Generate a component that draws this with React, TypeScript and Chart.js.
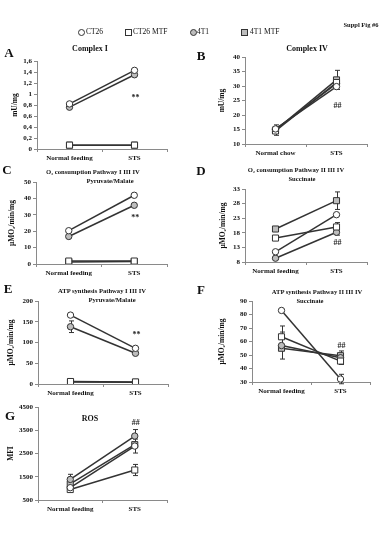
import React, { useEffect, useRef } from 'react';
import { Chart, registerables } from 'chart.js';

Chart.register(...registerables);

const FONT = "'Liberation Serif', 'Times New Roman', Times, serif";
const LINE = '#333333';
const AXIS = '#8a8a8a';
const GRAY = '#bdbdbd';

// ---------- data ----------
const SERIES = ['CT26', 'CT26 MTF', '4T1', '4T1 MTF'];
const CAT_FEED = ['Normal feeding', 'STS'];
const CAT_CHOW = ['Normal chow', 'STS'];

// A  Complex I (mU/mg)
const A_CT26 = [0.82, 1.43];
const A_CT26_MTF = [0.07, 0.07];
const A_4T1 = [0.76, 1.35];
const A_4T1_MTF = [0.07, 0.07];

// B  Complex IV (mU/mg)
const B_CT26 = [15.2, 29.8];
const B_CT26_MTF = [14.5, 31.2];
const B_4T1 = [15.0, 30.8];
const B_4T1_MTF = [14.8, 32.1];
const B_ERR_4T1_MTF = [1.8, 3.3];

// C  O2 consumption Pathway I III IV, Pyruvate/Malate
const C_CT26 = [20.3, 41.9];
const C_CT26_MTF = [1.8, 1.8];
const C_4T1 = [16.8, 35.8];
const C_4T1_MTF = [1.2, 1.5];
const C_ERR_CT26 = [0, 1.2];

// D  O2 consumption Pathway II III IV, Succinate
const D_CT26 = [11.5, 24.2];
const D_CT26_MTF = [16.2, 20.0];
const D_4T1 = [9.3, 18.2];
const D_4T1_MTF = [19.3, 29.0];
const D_ERR_CT26_MTF = [0.5, 1.5];
const D_ERR_4T1 = [0.4, 1.0];
const D_ERR_4T1_MTF = [0.8, 3.0];

// E  ATP synthesis Pathway I III IV, Pyruvate/Malate
const E_CT26 = [166, 86];
const E_CT26_MTF = [6, 5];
const E_4T1 = [138, 74];
const E_4T1_MTF = [5, 4];
const E_ERR_4T1 = [14, 0];

// F  ATP synthesis Pathway II III IV, Succinate
const F_CT26 = [83, 32.2];
const F_CT26_MTF = [63.5, 45.5];
const F_4T1 = [57, 48];
const F_4T1_MTF = [55, 49.5];
const F_ERR_CT26 = [0, 3.5];
const F_ERR_CT26_MTF = [8, 0];
const F_ERR_4T1 = [10, 5];

// G  ROS (MFI)
const G_CT26 = [1030, 2820];
const G_CT26_MTF = [950, 1790];
const G_4T1 = [1385, 3250];
const G_4T1_MTF = [1190, 2880];
const G_ERR_CT26 = [100, 300];
const G_ERR_CT26_MTF = [80, 240];
const G_ERR_4T1 = [220, 280];

const NO_ERR = [0, 0];

// ---------- panel configs ----------
type PanelCfg = {
  cats: string[];
  values: number[][];
  errors: number[][];
  yMin: number;
  yMax: number;
  yStep: number;
  comma?: boolean;
  yLabel: string;
  yTitleX: number;
  sig: string;
  sigValue: number;
  area: [number, number, number, number];
  col: 0 | 1;
};

const PANELS: PanelCfg[] = [
  {
    cats: CAT_FEED,
    values: [A_CT26, A_CT26_MTF, A_4T1, A_4T1_MTF],
    errors: [NO_ERR, NO_ERR, NO_ERR, NO_ERR],
    yMin: 0, yMax: 1.6, yStep: 0.2, comma: true,
    yLabel: 'mU/mg', yTitleX: 15,
    sig: '**', sigValue: 0.92,
    area: [37, 61, 167, 149], col: 0,
  },
  {
    cats: CAT_CHOW,
    values: [B_CT26, B_CT26_MTF, B_4T1, B_4T1_MTF],
    errors: [NO_ERR, NO_ERR, NO_ERR, B_ERR_4T1_MTF],
    yMin: 10, yMax: 40, yStep: 5,
    yLabel: 'mU/mg', yTitleX: 222,
    sig: '##', sigValue: 23,
    area: [245, 57, 367, 144], col: 1,
  },
  {
    cats: CAT_FEED,
    values: [C_CT26, C_CT26_MTF, C_4T1, C_4T1_MTF],
    errors: [C_ERR_CT26, NO_ERR, NO_ERR, NO_ERR],
    yMin: 0, yMax: 50, yStep: 10,
    yLabel: 'μMO₂/min/mg', yTitleX: 12,
    sig: '**', sigValue: 28,
    area: [36, 182, 167, 264], col: 0,
  },
  {
    cats: CAT_FEED,
    values: [D_CT26, D_CT26_MTF, D_4T1, D_4T1_MTF],
    errors: [NO_ERR, D_ERR_CT26_MTF, D_ERR_4T1, D_ERR_4T1_MTF],
    yMin: 8, yMax: 33, yStep: 5,
    yLabel: 'μMO₂/min/mg', yTitleX: 223,
    sig: '##', sigValue: 14.5,
    area: [245, 189, 367, 262], col: 1,
  },
  {
    cats: CAT_FEED,
    values: [E_CT26, E_CT26_MTF, E_4T1, E_4T1_MTF],
    errors: [NO_ERR, NO_ERR, E_ERR_4T1, NO_ERR],
    yMin: 0, yMax: 200, yStep: 50,
    yLabel: 'μMO₂/min/mg', yTitleX: 11,
    sig: '**', sigValue: 118,
    area: [38, 301, 168, 384], col: 0,
  },
  {
    cats: CAT_FEED,
    values: [F_CT26, F_CT26_MTF, F_4T1, F_4T1_MTF],
    errors: [F_ERR_CT26, F_ERR_CT26_MTF, F_ERR_4T1, NO_ERR],
    yMin: 30, yMax: 90, yStep: 10,
    yLabel: 'μMO₂/min/mg', yTitleX: 222,
    sig: '##', sigValue: 57,
    area: [252, 301, 370, 382], col: 1,
  },
  {
    cats: CAT_FEED,
    values: [G_CT26, G_CT26_MTF, G_4T1, G_4T1_MTF],
    errors: [G_ERR_CT26, G_ERR_CT26_MTF, G_ERR_4T1, NO_ERR],
    yMin: 500, yMax: 4500, yStep: 1000,
    yLabel: 'MFI', yTitleX: 11,
    sig: '##', sigValue: 3820,
    area: [38, 407, 167, 500], col: 0,
  },
];

const STYLES = [
  { pointStyle: 'circle', bg: '#ffffff', r: 3.2 },
  { pointStyle: 'rect', bg: '#ffffff', r: 4.3 },
  { pointStyle: 'circle', bg: GRAY, r: 3.2 },
  { pointStyle: 'rect', bg: GRAY, r: 4.3 },
];

const errorBarPlugin = {
  id: 'errbars',
  beforeDatasetsDraw(chart: any) {
    const { ctx } = chart;
    const x = chart.scales.x;
    const y = chart.scales.y;
    ctx.save();
    ctx.strokeStyle = LINE;
    ctx.lineWidth = 1;
    chart.data.datasets.forEach((ds: any) => {
      (ds.errors || []).forEach((e: number, i: number) => {
        if (!e) return;
        const v = ds.data[i];
        const px = Math.round(x.getPixelForValue(i)) + 0.5;
        const top = y.getPixelForValue(v + e);
        const bot = y.getPixelForValue(v - e);
        ctx.beginPath();
        ctx.moveTo(px, top);
        ctx.lineTo(px, bot);
        ctx.moveTo(px - 2.5, top);
        ctx.lineTo(px + 2.5, top);
        ctx.moveTo(px - 2.5, bot);
        ctx.lineTo(px + 2.5, bot);
        ctx.stroke();
      });
    });
    ctx.restore();
  },
};

const sigPlugin = {
  id: 'sigmark',
  afterDatasetsDraw(chart: any) {
    const cfg = (chart.config.options as any).sigmark;
    if (!cfg) return;
    const { ctx } = chart;
    const px = chart.scales.x.getPixelForValue(cfg.index);
    const py = chart.scales.y.getPixelForValue(cfg.value);
    ctx.save();
    ctx.fillStyle = '#222';
    ctx.font = `bold 8px ${FONT}`;
    ctx.textAlign = 'center';
    ctx.textBaseline = 'middle';
    ctx.fillText(cfg.text, px + 1, py);
    ctx.restore();
  },
};

function Panel({ cfg }: { cfg: PanelCfg }) {
  const ref = useRef<HTMLCanvasElement>(null);
  const [l, t, r, b] = cfg.area;
  const canvasLeft = cfg.col === 0 ? 0 : 190;
  const canvasW = cfg.col === 0 ? 186 : 192;
  const padTop = 8;
  const xH = 16;
  const canvasTop = t - padTop;
  const canvasH = b - t + padTop + xH;
  const yW = l - canvasLeft;
  const padRight = canvasLeft + canvasW - r;
  const yTitleSize = 7.5;
  const yTitlePad = Math.max(0, cfg.yTitleX - canvasLeft - (yTitleSize * 1.2) / 2);

  useEffect(() => {
    const datasets = cfg.values.map((vals, i) => ({
      label: SERIES[i],
      data: vals,
      errors: cfg.errors[i],
      borderColor: LINE,
      borderWidth: 1.5,
      pointStyle: STYLES[i].pointStyle,
      pointRadius: STYLES[i].r,
      pointBackgroundColor: STYLES[i].bg,
      pointBorderColor: LINE,
      pointBorderWidth: 1,
      fill: false,
      tension: 0,
    }));
    const chart = new Chart(ref.current!, {
      type: 'line',
      data: { labels: cfg.cats, datasets: datasets as any },
      plugins: [errorBarPlugin as any, sigPlugin as any],
      options: {
        responsive: false,
        maintainAspectRatio: false,
        animation: false,
        devicePixelRatio: 1,
        layout: { padding: { left: 0, right: padRight, top: padTop, bottom: 0 } },
        plugins: {
          legend: { display: false },
          tooltip: { enabled: false },
          title: { display: false },
        },
        sigmark: { text: cfg.sig, index: 1, value: cfg.sigValue },
        scales: {
          x: {
            type: 'category',
            offset: true,
            grid: {
              display: true,
              offset: true,
              drawOnChartArea: false,
              drawTicks: true,
              tickLength: 3,
              color: AXIS,
            },
            border: { display: true, color: AXIS, width: 1 },
            ticks: {
              font: { family: FONT, size: 7, weight: 'bold' },
              color: '#111',
              padding: 2,
              maxRotation: 0,
              autoSkip: false,
            },
            afterFit: (s: any) => {
              s.height = xH;
            },
          },
          y: {
            type: 'linear',
            min: cfg.yMin,
            max: cfg.yMax,
            grid: {
              display: true,
              drawOnChartArea: false,
              drawTicks: true,
              tickLength: 3,
              color: AXIS,
            },
            border: { display: true, color: AXIS, width: 1 },
            ticks: {
              stepSize: cfg.yStep,
              autoSkip: false,
              maxTicksLimit: 20,
              font: { family: FONT, size: 7, weight: 'bold' },
              color: '#111',
              padding: 2,
              callback: (v: any) => {
                const n = Number(v);
                const s = String(+n.toFixed(2));
                return cfg.comma ? s.replace('.', ',') : s;
              },
            },
            title: {
              display: true,
              text: cfg.yLabel,
              color: '#111',
              font: { family: FONT, size: yTitleSize, weight: 'bold' },
              padding: { top: yTitlePad, bottom: 0 },
            },
            afterFit: (s: any) => {
              s.width = yW;
            },
          },
        },
      } as any,
    });
    return () => chart.destroy();
  }, []);

  return (
    <canvas
      ref={ref}
      width={canvasW}
      height={canvasH}
      style={{ position: 'absolute', left: canvasLeft, top: canvasTop, width: canvasW, height: canvasH }}
    />
  );
}

type Txt = { text: string; x: number; y: number; size: number; bold?: boolean };

const TEXTS: Txt[] = [
  { text: 'Suppl Fig #6', x: 361, y: 25, size: 6.5, bold: true },
  { text: 'A', x: 9, y: 52, size: 13, bold: true },
  { text: 'Complex I', x: 90, y: 49, size: 8, bold: true },
  { text: 'B', x: 201, y: 55, size: 13, bold: true },
  { text: 'Complex IV', x: 307, y: 49, size: 8, bold: true },
  { text: 'C', x: 7, y: 169, size: 13, bold: true },
  { text: 'O₂ consumption Pathway I III IV', x: 93, y: 172, size: 6.6, bold: true },
  { text: 'Pyruvate/Malate', x: 110, y: 181, size: 6.6, bold: true },
  { text: 'D', x: 201, y: 170, size: 13, bold: true },
  { text: 'O₂ consumption Pathway II III IV', x: 296, y: 170, size: 6.6, bold: true },
  { text: 'Succinate', x: 302, y: 179, size: 6.6, bold: true },
  { text: 'E', x: 8, y: 288, size: 13, bold: true },
  { text: 'ATP synthesis Pathway I III IV', x: 102, y: 291, size: 6.6, bold: true },
  { text: 'Pyruvate/Malate', x: 112, y: 300, size: 6.6, bold: true },
  { text: 'F', x: 201, y: 289, size: 13, bold: true },
  { text: 'ATP synthesis Pathway II III IV', x: 317, y: 292, size: 6.6, bold: true },
  { text: 'Succinate', x: 310, y: 301, size: 6.6, bold: true },
  { text: 'G', x: 10, y: 415, size: 13, bold: true },
  { text: 'ROS', x: 90, y: 419, size: 8, bold: true },
];

const LEGEND = [
  { name: SERIES[0], mx: 81, tx: 86, round: true, bg: '#ffffff' },
  { name: SERIES[1], mx: 128, tx: 133, round: false, bg: '#ffffff' },
  { name: SERIES[2], mx: 193, tx: 197, round: true, bg: GRAY },
  { name: SERIES[3], mx: 244, tx: 250, round: false, bg: GRAY },
];

export default function App() {
  return (
    <div
      style={{
        position: 'absolute',
        left: 0,
        top: 0,
        width: 382,
        height: 535,
        background: '#ffffff',
        overflow: 'hidden',
        fontFamily: FONT,
      }}
    >
      {PANELS.map((p, i) => (
        <Panel key={i} cfg={p} />
      ))}
      {LEGEND.map((it, i) => (
        <React.Fragment key={i}>
          <div
            style={{
              position: 'absolute',
              left: it.mx - 3,
              top: 32 - 3,
              width: 5,
              height: 5,
              border: `1px solid ${LINE}`,
              borderRadius: it.round ? '50%' : 0,
              background: it.bg,
            }}
          />
          <div
            style={{
              position: 'absolute',
              left: it.tx,
              top: 32,
              transform: 'translateY(-50%)',
              willChange: 'transform',
              fontSize: 7.5,
              lineHeight: 1,
              whiteSpace: 'nowrap',
              color: '#111',
            }}
          >
            {it.name}
          </div>
        </React.Fragment>
      ))}
      {TEXTS.map((t, i) => (
        <div
          key={i}
          style={{
            position: 'absolute',
            left: t.x,
            top: t.y,
            transform: 'translate(-50%, -50%)',
            willChange: 'transform',
            fontSize: t.size,
            fontWeight: t.bold ? 'bold' : 'normal',
            lineHeight: 1,
            whiteSpace: 'nowrap',
            color: '#111',
          }}
        >
          {t.text}
        </div>
      ))}
    </div>
  );
}
